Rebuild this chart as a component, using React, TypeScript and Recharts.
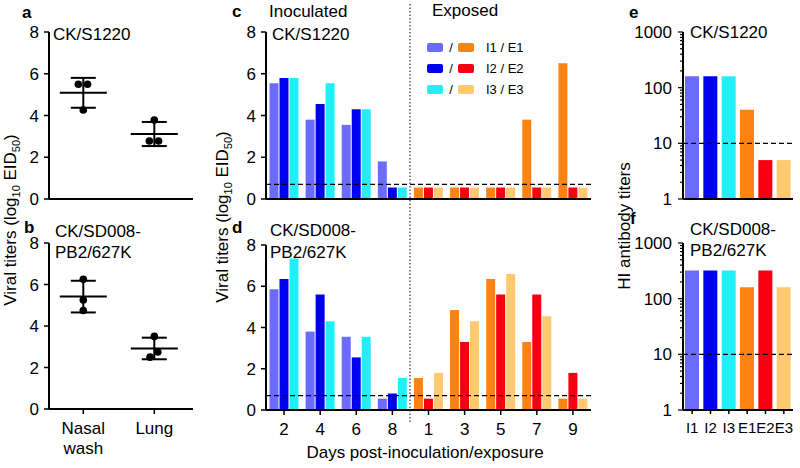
import {
  Bar,
  BarChart,
  Cell,
  ErrorBar,
  ReferenceLine,
  Scatter,
  ScatterChart,
  XAxis,
  YAxis,
} from "recharts";

const font = "'Liberation Sans', Arial, Helvetica, sans-serif";

// a / b: virus in inoculated birds, log10 EID50
const titerTicks = [0, 2, 4, 6, 8];
const tissues = ["Nasal wash", "Lung"];
const nasalA = [5.5, 5.5, 4.26];
const lungA = [3.78, 2.78, 2.78];
const nasalB = [6.25, 5.25, 4.75];
const lungB = [3.5, 2.75, 2.5];
// sideways spread of the dots inside a column (category units)
const spreadNasalA = [-0.07, 0.06, 0];
const spreadLungA = [0, -0.07, 0.06];
const spreadNasalB = [0, 0, 0];
const spreadLungB = [0, 0.05, -0.06];

// c / d: shedding per bird and day
const days = ["2", "4", "6", "8", "1", "3", "5", "7", "9"];
const inocDays = 4;
const detectionLimit = 0.7;
const cI1 = [5.55, 3.8, 3.55, 1.8];
const cI2 = [5.8, 4.55, 4.3, 0.55];
const cI3 = [5.8, 5.55, 4.3, 0.55];
const cE1 = [0.55, 0.55, 0.55, 3.8, 6.5];
const cE2 = [0.55, 0.55, 0.55, 0.55, 0.55];
const cE3 = [0.55, 0.55, 0.55, 0.55, 0.55];
const dI1 = [5.85, 3.8, 3.55, 0.55];
const dI2 = [6.35, 5.6, 2.55, 0.8];
const dI3 = [7.35, 4.3, 3.55, 1.55];
const dE1 = [1.55, 4.85, 6.35, 3.3, 0.55];
const dE2 = [0.55, 3.3, 5.6, 5.6, 1.8];
const dE3 = [1.8, 4.3, 6.6, 4.55, 0.55];

// e / f: HI antibody titers
const birds = ["I1", "I2", "I3", "E1", "E2", "E3"];
const hiE = [160, 160, 160, 40, 5, 5];
const hiF = [320, 320, 320, 160, 320, 160];
const hiCutoff = 10;
const logTicks = [
  1, 2, 3, 4, 5, 6, 7, 8, 9, 10, 20, 30, 40, 50, 60, 70, 80, 90, 100, 200, 300,
  400, 500, 600, 700, 800, 900, 1000,
];
const logLabels = [1, 10, 100, 1000];

const inocColors = ["#6b6bff", "#0000f0", "#1ff0f8"];
const expoColors = ["#ff8312", "#f70012", "#ffc96f"];
const legendLabels = ["I1 / E1", "I2 / E2", "I3 / E3"];

const axisLine = { stroke: "#000", strokeWidth: 2 };
const tickLine = { stroke: "#000", strokeWidth: 1.5 };
const tickFont = { fill: "#000", fontSize: 17, fontFamily: font };

function dots(vals: number[], col: number, spread: number[]) {
  return vals.map((v, i) => ({ x: col + spread[i], y: v }));
}

function meanSd(vals: number[], col: number) {
  const m = vals.reduce((s, v) => s + v, 0) / vals.length;
  const sd = Math.sqrt(vals.reduce((s, v) => s + (v - m) ** 2, 0) / (vals.length - 1));
  return { x: col, y: m, sd };
}

function shedRows(i1: number[], i2: number[], i3: number[], e1: number[], e2: number[], e3: number[]) {
  return days.map((day, i) => ({
    day,
    s1: i < inocDays ? i1[i] : e1[i - inocDays],
    s2: i < inocDays ? i2[i] : e2[i - inocDays],
    s3: i < inocDays ? i3[i] : e3[i - inocDays],
  }));
}

function TissueTick(props: any) {
  const { x, y, payload } = props;
  const words = tissues[payload.value - 1].split(" ");
  return (
    <text x={x} y={y} textAnchor="middle" fill="#000" fontSize={17} fontFamily={font}>
      {words.map((w, i) => (
        <tspan key={w} x={x} dy={i === 0 ? "0.71em" : 20}>
          {w}
        </tspan>
      ))}
    </text>
  );
}

function LogTick(props: any) {
  const { x, y, payload } = props;
  const major = logLabels.includes(payload.value);
  return (
    <g>
      <line x1={x - (major ? 5 : 3)} x2={x} y1={y} y2={y} stroke="#000" strokeWidth={1.2} />
      {major && (
        <text x={x - 11} y={y} dy="0.355em" textAnchor="end" fill="#000" fontSize={17} fontFamily={font}>
          {payload.value}
        </text>
      )}
    </g>
  );
}

function TiterScatter(props: {
  top: number;
  height: number;
  plotTop: number;
  plotBottom: number;
  nasal: number[];
  lung: number[];
  spreadN: number[];
  spreadL: number[];
  labels: boolean;
}) {
  const { top, height, plotTop, plotBottom, nasal, lung, spreadN, spreadL, labels } = props;
  const points = [...dots(nasal, 1, spreadN), ...dots(lung, 2, spreadL)];
  const stats = [meanSd(nasal, 1), meanSd(lung, 2)];
  return (
    <div style={{ position: "absolute", left: 0, top }}>
      <ScatterChart width={200} height={height} margin={{ top: plotTop - top, right: 7, bottom: 0, left: 0 }}>
        <XAxis
          type="number"
          dataKey="x"
          domain={[0.517, 2.545]}
          ticks={[1, 2]}
          interval={0}
          allowDataOverflow
          height={top + height - plotBottom}
          tickSize={5}
          tickMargin={8}
          axisLine={axisLine}
          tickLine={tickLine}
          tick={labels ? <TissueTick /> : false}
        />
        <YAxis
          type="number"
          dataKey="y"
          domain={[0, 8]}
          ticks={titerTicks}
          interval={0}
          width={49}
          tickSize={5}
          tickMargin={5}
          axisLine={axisLine}
          tickLine={tickLine}
          tick={tickFont}
        />
        <Scatter
          data={stats}
          isAnimationActive={false}
          shape={(p: any) => (
            <line x1={p.cx - 23.5} x2={p.cx + 23.5} y1={p.cy} y2={p.cy} stroke="#000" strokeWidth={2} />
          )}
        >
          <ErrorBar dataKey="sd" direction="y" width={12.5} stroke="#000" strokeWidth={2} />
        </Scatter>
        <Scatter
          data={points}
          isAnimationActive={false}
          shape={(p: any) => <circle cx={p.cx} cy={p.cy} r={3.8} fill="#000" />}
        />
      </ScatterChart>
    </div>
  );
}

function ShedBars(props: {
  top: number;
  height: number;
  plotTop: number;
  plotBottom: number;
  rows: ReturnType<typeof shedRows>;
  labels: boolean;
}) {
  const { top, height, plotTop, plotBottom, rows, labels } = props;
  return (
    <div style={{ position: "absolute", left: 200, top }}>
      <BarChart
        width={400}
        height={height}
        data={rows}
        margin={{ top: plotTop - top, right: 9, bottom: 0, left: 0 }}
        barCategoryGap={3.5}
        barGap={1}
      >
        <XAxis
          dataKey="day"
          interval={0}
          height={top + height - plotBottom}
          tickSize={5}
          tickMargin={8}
          axisLine={axisLine}
          tickLine={tickLine}
          tick={labels ? tickFont : false}
        />
        <YAxis
          domain={[0, 8]}
          ticks={titerTicks}
          interval={0}
          width={66}
          tickSize={5}
          tickMargin={5}
          axisLine={axisLine}
          tickLine={tickLine}
          tick={tickFont}
        />
        {["s1", "s2", "s3"].map((key, s) => (
          <Bar key={key} dataKey={key} isAnimationActive={false}>
            {rows.map((r, i) => (
              <Cell key={r.day} fill={i < inocDays ? inocColors[s] : expoColors[s]} />
            ))}
          </Bar>
        ))}
        <ReferenceLine y={detectionLimit} stroke="#000" strokeWidth={1.2} strokeDasharray="5 3" />
      </BarChart>
    </div>
  );
}

function HiBars(props: {
  top: number;
  height: number;
  plotTop: number;
  plotBottom: number;
  values: number[];
  labels: boolean;
}) {
  const { top, height, plotTop, plotBottom, values, labels } = props;
  const rows = birds.map((b, i) => ({ bird: b, titer: values[i] }));
  const colors = [...inocColors, ...expoColors];
  return (
    <div style={{ position: "absolute", left: 600, top }}>
      <BarChart
        width={200}
        height={height}
        data={rows}
        margin={{ top: plotTop - top, right: 7, bottom: 0, left: 0 }}
        barCategoryGap={2}
      >
        <XAxis
          dataKey="bird"
          interval={0}
          height={top + height - plotBottom}
          tickSize={4}
          tickMargin={8}
          axisLine={axisLine}
          tickLine={tickLine}
          tick={labels ? { ...tickFont, fontSize: 15 } : false}
        />
        <YAxis
          type="number"
          scale="log"
          domain={[1, 1000]}
          allowDataOverflow
          ticks={logTicks}
          interval={0}
          width={83}
          tickSize={0}
          tickMargin={0}
          axisLine={axisLine}
          tickLine={false}
          tick={<LogTick />}
        />
        <Bar dataKey="titer" isAnimationActive={false}>
          {rows.map((r, i) => (
            <Cell key={r.bird} fill={colors[i]} />
          ))}
        </Bar>
        <ReferenceLine y={hiCutoff} stroke="#000" strokeWidth={1.2} strokeDasharray="5 3" />
      </BarChart>
    </div>
  );
}

function SubTitle({ x, y, text }: { x: number; y: number; text: string }) {
  return (
    <text
      transform={`translate(${x},${y}) rotate(-90)`}
      textAnchor="middle"
      fill="#000"
      fontSize={17}
      fontFamily={font}
    >
      {text}
    </text>
  );
}

function TiterTitle({ x, y }: { x: number; y: number }) {
  return (
    <text transform={`translate(${x},${y}) rotate(-90)`} textAnchor="middle" fill="#000" fontSize={17} fontFamily={font}>
      Viral titers (log
      <tspan fontSize={11} dy={4}>
        10
      </tspan>
      <tspan dy={-4}> EID</tspan>
      <tspan fontSize={11} dy={4}>
        50
      </tspan>
      <tspan dy={-4}>)</tspan>
    </text>
  );
}

export default function App() {
  const cRows = shedRows(cI1, cI2, cI3, cE1, cE2, cE3);
  const dRows = shedRows(dI1, dI2, dI3, dE1, dE2, dE3);
  const txt = { fill: "#000", fontSize: 17, fontFamily: font };
  const bold = { ...txt, fontWeight: 700 };
  return (
    <div style={{ position: "absolute", left: 0, top: 0, width: 800, height: 468, background: "#fff" }}>
      <TiterScatter top={0} height={215} plotTop={32} plotBottom={199} nasal={nasalA} lung={lungA} spreadN={spreadNasalA} spreadL={spreadLungA} labels={false} />
      <TiterScatter top={215} height={253} plotTop={243} plotBottom={409} nasal={nasalB} lung={lungB} spreadN={spreadNasalB} spreadL={spreadLungB} labels />
      <ShedBars top={0} height={215} plotTop={32} plotBottom={199} rows={cRows} labels={false} />
      <ShedBars top={215} height={253} plotTop={245} plotBottom={410} rows={dRows} labels />
      <HiBars top={0} height={215} plotTop={32} plotBottom={199} values={hiE} labels={false} />
      <HiBars top={215} height={253} plotTop={243} plotBottom={410} values={hiF} labels />

      <svg width={800} height={468} style={{ position: "absolute", left: 0, top: 0, pointerEvents: "none" }}>
        <line x1={410} x2={410} y1={4} y2={422} stroke="#333" strokeWidth={1.2} strokeDasharray="1.5 2" />

        <text x={22} y={18} {...bold}>a</text>
        <text x={24} y={233} {...bold}>b</text>
        <text x={232} y={17} {...bold}>c</text>
        <text x={232} y={233} {...bold}>d</text>
        <text x={629} y={18} {...bold}>e</text>
        <text x={630} y={224} {...bold}>f</text>

        <text x={53} y={40} {...txt}>CK/S1220</text>
        <text x={272} y={40} {...txt}>CK/S1220</text>
        <text x={690} y={38} {...txt}>CK/S1220</text>
        <text x={55} y={237} {...txt}>CK/SD008-</text>
        <text x={55} y={258} {...txt}>PB2/627K</text>
        <text x={270} y={236} {...txt}>CK/SD008-</text>
        <text x={270} y={258} {...txt}>PB2/627K</text>
        <text x={690} y={235} {...txt}>CK/SD008-</text>
        <text x={690} y={256} {...txt}>PB2/627K</text>

        <text x={269} y={17} {...txt}>Inoculated</text>
        <text x={432} y={16} {...txt}>Exposed</text>

        {legendLabels.map((label, i) => {
          const cy = 47.5 + i * 21;
          return (
            <g key={label}>
              <rect x={427} y={cy - 4.5} width={16} height={9} rx={2} fill={inocColors[i]} />
              <text x={451} y={cy} dy="0.35em" textAnchor="middle" fill="#000" fontSize={13} fontFamily={font}>/</text>
              <rect x={458} y={cy - 4.5} width={16} height={9} rx={2} fill={expoColors[i]} />
              <text x={486} y={cy} dy="0.35em" fill="#000" fontSize={13} fontFamily={font}>{label}</text>
            </g>
          );
        })}

        <text x={425} y={458} textAnchor="middle" {...txt}>Days post-inoculation/exposure</text>
        <TiterTitle x={16} y={220} />
        <TiterTitle x={228} y={217} />
        <SubTitle x={630} y={226} text="HI antibody titers" />
      </svg>
    </div>
  );
}
